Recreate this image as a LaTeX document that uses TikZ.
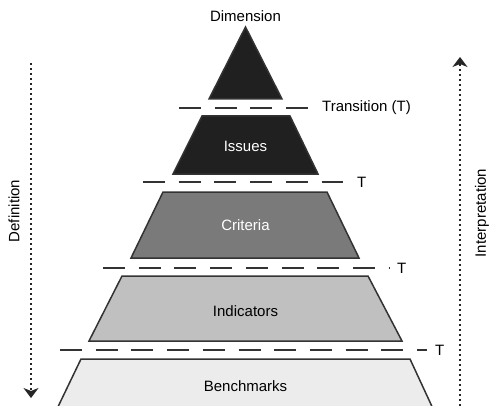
\documentclass[tikz,border=0pt]{standalone}
\usepackage{fontspec}
\setmainfont{Liberation Sans}
\usetikzlibrary{arrows.meta}
\definecolor{noir}{RGB}{32,32,32}
\definecolor{gris}{RGB}{122,122,122}
\definecolor{grisclair}{RGB}{192,192,192}
\definecolor{grispale}{RGB}{236,236,236}
\colorlet{trait}{black!80}
\newcommand{\pas}{35.7}
\tikzstyle{bord}=[draw=trait, line width=1.5pt, join=miter]
\tikzstyle{tiret}=[trait, line width=2pt, dash pattern=on 22pt off 13.7pt]
\tikzstyle{etiq}=[inner sep=0, font=\fontsize{15}{18}\selectfont]
\tikzstyle{sens}=[black!85, line width=2.2pt, dash pattern=on 2pt off 3pt,
  -{Stealth[length=10pt,width=15pt,inset=3pt,line width=1pt,fill=black!85]}]
\begin{document}
\begin{tikzpicture}[x=1pt,y=-1pt]
\useasboundingbox (0,0) rectangle (489,406);

% sommet
\path[bord,fill=noir] (245.5,27) -- (282,99) -- (209,99) -- cycle;
\node[etiq] (dim) at (245.5,16) {Dimension};

% niveaux
\foreach \ha/\hg/\hd/\ba/\bg/\bd/\coul/\tc/\yt/\lab in
 {116/202/290/174/173/318/noir/white/146/Issues,
  192/163/327/258/131/359/gris/white/225/Criteria,
  276/122/368/341/89/402/grisclair/black/311/Indicators,
  359/81/410/413/55/435/grispale/black/386/Benchmarks}
{\path[bord,fill=\coul] (\hg,\ha) -- (\hd,\ha) -- (\bd,\ba) -- (\bg,\ba) -- cycle;
\node[etiq,text=\tc] (\lab) at (245.5,\yt) {\lab};
}

% transitions
\foreach \y/\xa/\xb/\xt/\lab [count=\i] in
 {108/179/308/322/Transition (T),
  182/143/343/357/T,
  268/103/390/397/T,
  350/60/427/435/T}
{\draw[tiret] (\xa,\y) -- (\xb,\y);
\node[etiq,anchor=west] (trans\i) at (\xt,\y) {\lab};
}

% definition / interpretation
\coordinate (defA) at (31,63);
\coordinate (defB) at (31,398);
\coordinate (intA) at (460,406);
\coordinate (intB) at (460,57);
\draw[sens] (defA) -- (defB);
\draw[sens] (intA) -- (intB);
\node[etiq,rotate=90] (def) at (14,211) {Definition};
\node[etiq,rotate=90] (interp) at (482,213) {Interpretation};
\end{tikzpicture}
\end{document}
